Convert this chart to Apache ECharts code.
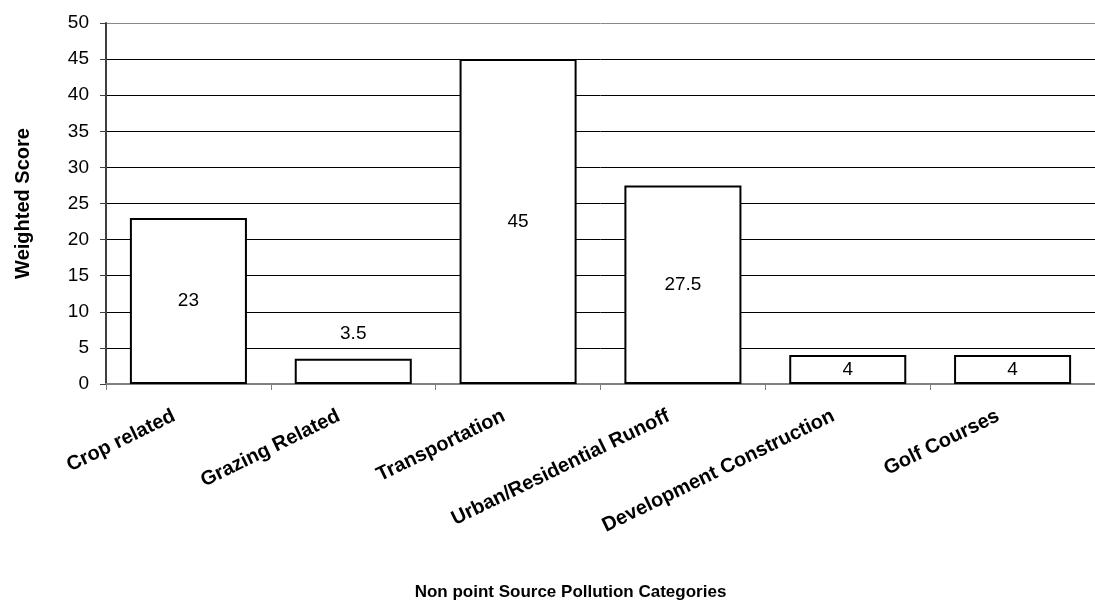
<!DOCTYPE html>
<html><head><meta charset="utf-8">
<script src="https://cdn.jsdelivr.net/npm/echarts@6/dist/echarts.min.js"></script>
<style>html,body{margin:0;padding:0;background:#fff}#c{width:1095px;height:609px}</style>
</head><body><div id="c"></div>
<script>
const categories = ["Crop related","Grazing Related","Transportation","Urban/Residential Runoff","Development Construction","Golf Courses"];
const values = [23, 3.5, 45, 27.5, 4, 4];
const yTicks = [0,5,10,15,20,25,30,35,40,45,50];

const chart = echarts.init(document.getElementById('c'));
const FONT = 'Liberation Sans, Arial, sans-serif';
const gridColors = yTicks.map((t, i) => i === yTicks.length - 1 ? '#888' : '#000');
chart.setOption({
  animation: false,
  grid: { left: 106, top: 23, width: 1000, height: 361, containLabel: false },
  xAxis: {
    type: 'category', data: categories,
    name: 'Non point Source Pollution Categories', nameLocation: 'middle', nameGap: 200,
    nameTextStyle: { fontFamily: FONT, fontWeight: 'bold', fontSize: 17, color: '#000', padding:[0,0,0,-60] },
    axisLine: { lineStyle: { color: '#808080', width: 2 } },
    axisTick: { show: true, length: 6, lineStyle: { color: '#808080', width: 1 } },
    axisLabel: { rotate: 26, fontFamily: FONT, fontWeight: 'bold', fontSize: 20, color: '#000', margin: 24, padding: [0, 16, 0, 0] }
  },
  yAxis: {
    type: 'value', min: 0, max: 50, interval: 5,
    name: 'Weighted Score', nameLocation: 'middle', nameGap: 73,
    nameTextStyle: { fontFamily: FONT, fontWeight: 'bold', fontSize: 20, color: '#000' },
    axisLine: { show: true, lineStyle: { color: '#404040', width: 2 } },
    axisTick: { show: true, length: 6, lineStyle: { color: '#404040' } },
    axisLabel: { fontFamily: FONT, fontSize: 19, color: '#000', margin: 17 },
    splitLine: { show: true, lineStyle: { color: gridColors, width: 1 } }
  },
  series: [{
    type: 'bar', barWidth: '71%',
    itemStyle: { color: '#fff', borderColor: '#000', borderWidth: 2 },
    label: { show: true, position: 'inside', fontFamily: FONT, fontSize: 19, color: '#000' },
    data: values.map(v => v === 3.5 ? { value: v, label: { position: 'top', distance: 15 } } : v)
  }]
});
</script></body></html>
